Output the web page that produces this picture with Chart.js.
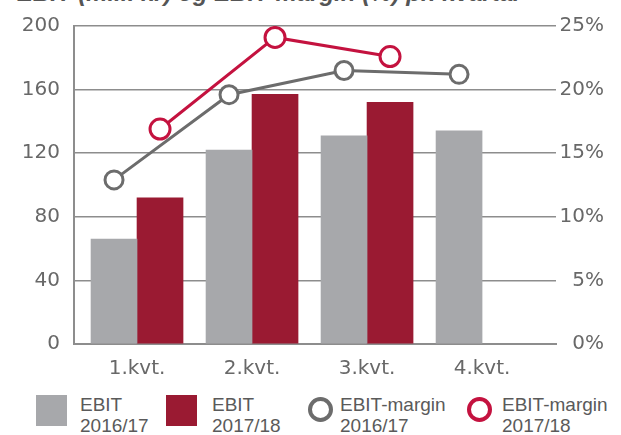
<!DOCTYPE html>
<html><head><meta charset="utf-8">
<script src="https://cdn.jsdelivr.net/npm/chart.js@4"></script>
<style>
html,body{margin:0;padding:0;width:621px;height:435px;overflow:hidden;background:#fff;}
#wrap{position:absolute;left:0;top:0;width:621px;height:390px;}
#title{position:absolute;left:17px;top:-19px;font:italic bold 24px/24px "Liberation Sans",Arial,sans-serif;color:#555;white-space:nowrap;}
.sym{position:absolute;box-sizing:border-box;}
.txt{position:absolute;top:394px;font:19px/21px "Liberation Sans",sans-serif;color:#5a5a5a;white-space:nowrap;}
</style></head>
<body>
<div id="title"></div>
<div id="wrap"><canvas id="c" width="621" height="390"></canvas></div>
<div id="legend"></div>
<script>
const titleText = 'EBIT (mill. kr) og EBIT-margin (%) pr. kvartal';
const categories = ['1.kvt.', '2.kvt.', '3.kvt.', '4.kvt.'];
const ebit1617 = [66, 122, 131, 134];
const ebit1718 = [92, 157, 152, null];
const margin1617 = [12.9, 19.6, 21.5, 21.2];
const margin1718 = [16.9, 24.1, 22.6, null];
const leftTicks = [0, 40, 80, 120, 160, 200];
const rightTicks = [0, 5, 10, 15, 20, 25];
const legendLabels = [['EBIT', '2016/17'], ['EBIT', '2017/18'], ['EBIT-margin', '2016/17'], ['EBIT-margin', '2017/18']];

const GREY = '#a7a8ab', RED = '#9a1a32', GREYLINE = '#6c6c6c', REDLINE = '#c4123f';
const GRID = '#8d8d8d', TXT = '#686868';

document.getElementById('title').textContent = titleText;

// category scale placement (category units): first centre sits 0.548 from the left edge
function placeCats(shift) {
  return function (scale) {
    scale._startValue = -0.548 + shift;
    scale._valueRange = 4.191;
  };
}

const axisFont = { family: '"DejaVu Sans", sans-serif', size: 20 };

new Chart(document.getElementById('c'), {
  data: {
    labels: categories,
    datasets: [
      { type: 'line', label: 'EBIT-margin 2017/18', data: margin1718, yAxisID: 'y2', xAxisID: 'xr',
        borderColor: REDLINE, borderWidth: 3, pointRadius: 10, pointBorderWidth: 3,
        pointBackgroundColor: '#fff', pointBorderColor: REDLINE, order: 0 },
      { type: 'line', label: 'EBIT-margin 2016/17', data: margin1617, yAxisID: 'y2', xAxisID: 'xg',
        borderColor: GREYLINE, borderWidth: 3, pointRadius: 9, pointBorderWidth: 3,
        pointBackgroundColor: '#fff', pointBorderColor: GREYLINE, order: 1 },
      { type: 'bar', label: 'EBIT 2016/17', data: ebit1617, backgroundColor: GREY, yAxisID: 'y', xAxisID: 'x',
        barThickness: 46, order: 2 },
      { type: 'bar', label: 'EBIT 2017/18', data: ebit1718, backgroundColor: RED, yAxisID: 'y', xAxisID: 'x',
        barThickness: 46, order: 3 }
    ]
  },
  options: {
    responsive: false, animation: false,
    layout: { padding: { top: 24, left: 0, right: 17, bottom: 0 } },
    plugins: { legend: { display: false }, tooltip: { enabled: false }, title: { display: false } },
    scales: {
      x: { type: 'category', offset: true, position: 'bottom',
        grid: { display: false },
        border: { display: true, color: GRID, width: 2 },
        ticks: { color: TXT, font: axisFont, padding: 5, maxRotation: 0 },
        afterBuildTicks: placeCats(0),
        afterFit: s => { s.height = 46; } },
      xg: { type: 'category', offset: true, display: false, afterBuildTicks: placeCats(0.2) },
      xr: { type: 'category', offset: true, display: false, afterBuildTicks: placeCats(-0.2) },
      y: { type: 'linear', position: 'left', min: 0, max: 200,
        afterBuildTicks: s => { s.ticks = leftTicks.map(v => ({ value: v })); },
        grid: { color: GRID, lineWidth: 1.5, drawTicks: false },
        border: { display: true, color: GRID, width: 2 },
        ticks: { color: TXT, font: axisFont, padding: 14 },
        afterFit: s => { s.width = 74; } },
      y2: { type: 'linear', position: 'right', min: 0, max: 25,
        afterBuildTicks: s => { s.ticks = rightTicks.map(v => ({ value: v })); },
        grid: { display: false, drawTicks: false },
        border: { display: false },
        ticks: { color: TXT, font: axisFont, padding: 2, crossAlign: 'far', callback: v => v + '%' },
        afterFit: s => { s.width = 48; } }
    }
  }
});

// legend (HTML)
const legend = document.getElementById('legend');
const symDefs = [
  { left: 36, top: 395, w: 31, h: 31, style: 'background:' + GREY },
  { left: 166, top: 395, w: 31, h: 31, style: 'background:' + RED },
  { left: 307.5, top: 396.5, w: 25, h: 25, style: 'border:4px solid ' + GREYLINE + ';border-radius:50%;background:#fff' },
  { left: 466.5, top: 396.5, w: 25, h: 25, style: 'border:4px solid ' + REDLINE + ';border-radius:50%;background:#fff' }
];
const txtLeft = [80, 212, 340, 502];
legendLabels.forEach((lab, i) => {
  const s = document.createElement('div');
  const d = symDefs[i];
  s.className = 'sym';
  s.style.cssText = 'left:' + d.left + 'px;top:' + d.top + 'px;width:' + d.w + 'px;height:' + d.h + 'px;' + d.style;
  legend.appendChild(s);
  const t = document.createElement('div');
  t.className = 'txt';
  t.style.left = txtLeft[i] + 'px';
  t.innerHTML = lab[0] + '<br>' + lab[1];
  legend.appendChild(t);
});
</script>
</body></html>
